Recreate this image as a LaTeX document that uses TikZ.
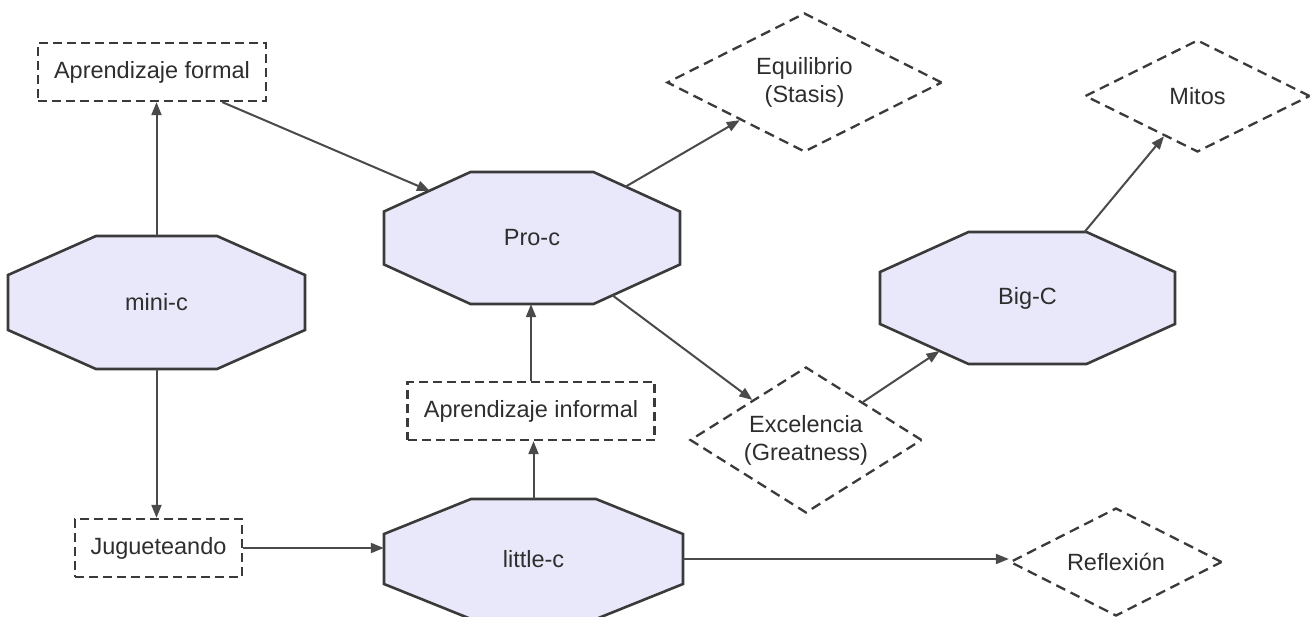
\documentclass[tikz,border=0pt]{standalone}
\usepackage{fontspec}
\setmainfont{Liberation Sans}
\usetikzlibrary{shapes.geometric,arrows.meta,calc}
\definecolor{octfill}{HTML}{E8E8FA}
\definecolor{octline}{HTML}{3A3A3A}
\definecolor{txt}{HTML}{2E2E2E}
\definecolor{arrcol}{HTML}{4A4A4A}
\tikzset{
  octo/.style={fill=octfill, draw=octline, line width=2.6pt, line join=miter},
  octtext/.style={inner sep=0pt, text=txt},
  dbox/.style={draw=octline, dash pattern=on 9pt off 5pt, line width=2.3pt, text=txt, inner sep=0pt, minimum height=58pt},
  ddia/.style={diamond, draw=octline, dash pattern=on 10pt off 6pt, line width=2.3pt, text=txt, inner sep=0pt, shape aspect=2, align=center},
  arr/.style={draw=arrcol, line width=2pt, -{Triangle[length=13pt,width=10pt]}},
}
\newcommand\drawocto[7]{%
  \filldraw[octo] ($#2+(-#5,-#4)$) -- ($#2+(#5,-#4)$) -- ($#2+(#3,-#6)$) -- ($#2+(#3,#6)$) -- ($#2+(#5,#4)$) -- ($#2+(-#5,#4)$) -- ($#2+(-#3,#6)$) -- ($#2+(-#3,-#6)$) -- cycle;
  \node[octtext, minimum width={#3*2pt}, minimum height={#4*2pt}] (#1) at #2 {#7};
}
\begin{document}
\begin{tikzpicture}[x=1pt, y=-1pt, font=\fontsize{23.5}{28}\selectfont]
\useasboundingbox (0,0) rectangle (1315,616);
% octagons
\drawocto{minic}{(156.5,302.5)}{148.5}{66.5}{60.5}{27.5}{mini-c}
\drawocto{proc}{(532,238)}{148}{66}{61.5}{26.5}{Pro-c}
\drawocto{bigc}{(1027.5,298)}{147.5}{66}{59}{26}{Big-C}
\drawocto{lc}{(533.5,559)}{149.5}{60}{62.5}{25}{little-c}
% dashed boxes
\node[dbox, minimum width=228pt] (apf) at (152,72) {Aprendizaje formal};
\node[dbox, minimum width=247pt] (inf) at (531,411) {Aprendizaje informal};
\node[dbox, minimum width=167pt] (jug) at (158.5,548) {Jugueteando};
% diamonds
\node[ddia, minimum width=275pt, minimum height=139pt] (equil) at (804.5,82.5) {Equilibrio\\(Stasis)};
\node[ddia, minimum width=225pt, minimum height=112pt] (mitos) at (1197.5,96) {Mitos};
\node[ddia, minimum width=232pt, minimum height=146pt] (excel) at (806,440) {Excelencia\\(Greatness)};
\node[ddia, minimum width=212pt, minimum height=108pt] (refl) at (1116,562) {Reflexión};
% connector points on octagon borders
\coordinate (procUL) at ($(proc.center)+(-102,-47)$);
\coordinate (procUR) at ($(proc.center)+(93,-51)$);
\coordinate (procLR) at ($(proc.center)+(80,57)$);
\coordinate (bigcLL) at ($(bigc.center)+(-88,53)$);
\coordinate (bigcT) at ($(bigc.center)+(57,-66)$);
% connectors
\draw[arr] (minic.north) -- (minic.north |- apf.south);
\draw[arr] (minic.south) -- (minic.south |- jug.north);
\draw[arr] (apf) -- (procUL);
\draw[arr] (procUR) -- (equil);
\draw[arr] (procLR) -- (excel);
\draw[arr] (excel) -- (bigcLL);
\draw[arr] (bigcT) -- (mitos);
\draw[arr] (jug.east) -- (jug.east -| lc.west);
\draw[arr] (lc.north) -- (lc.north |- inf.south);
\draw[arr] (inf.north) -- (inf.north |- proc.south);
\draw[arr] (lc.east) -- (lc.east -| refl.west);
\end{tikzpicture}
\end{document}
